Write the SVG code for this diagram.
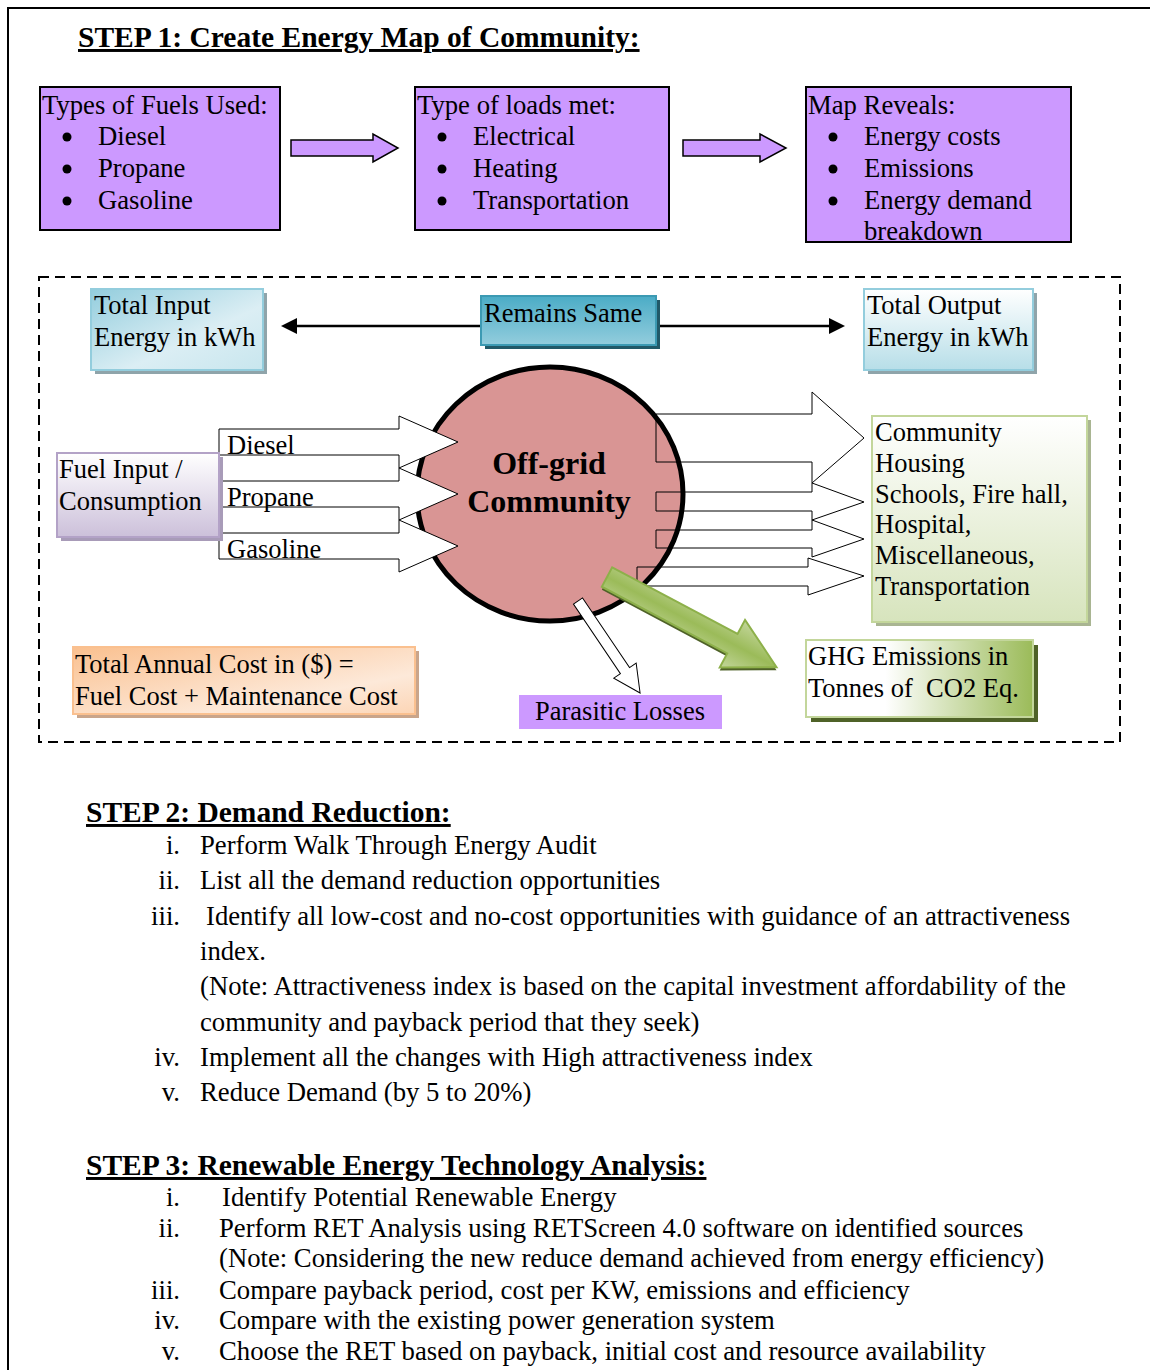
<svg xmlns="http://www.w3.org/2000/svg" width="1150" height="1370" viewBox="0 0 1150 1370">
<style>
text{font-family:"Liberation Serif","Times New Roman",serif;fill:#000}
.t26{font-size:26.7px}
.t24{font-size:26.5px}
.h{font-size:29.5px;font-weight:bold;text-decoration:underline}
.purple{fill:#cc99ff;stroke:#000;stroke-width:2}
.blk{fill:#fff;stroke:#000;stroke-width:1}
.out{fill:none;stroke:#000;stroke-width:1}
</style>
<defs>
<linearGradient id="gIn" x1="0" y1="0" x2="1" y2="1"><stop offset="0" stop-color="#93cddd"/><stop offset="0.6" stop-color="#dbeef4"/><stop offset="1" stop-color="#c8e6ee"/></linearGradient>
<linearGradient id="gOut" x1="0" y1="0" x2="0" y2="1"><stop offset="0" stop-color="#ffffff"/><stop offset="1" stop-color="#b7dee8"/></linearGradient>
<linearGradient id="gSame" x1="0" y1="0" x2="0" y2="1"><stop offset="0" stop-color="#4bacc6"/><stop offset="1" stop-color="#93cddd"/></linearGradient>
<linearGradient id="gFuel" x1="0" y1="0" x2="0" y2="1"><stop offset="0" stop-color="#ffffff"/><stop offset="1" stop-color="#ccc0da"/></linearGradient>
<linearGradient id="gComm" x1="0" y1="0" x2="0" y2="1"><stop offset="0" stop-color="#ffffff"/><stop offset="1" stop-color="#d7e4bd"/></linearGradient>
<linearGradient id="gCost" x1="0" y1="0" x2="1" y2="1"><stop offset="0" stop-color="#fac08f"/><stop offset="0.7" stop-color="#fde9d9"/><stop offset="1" stop-color="#fcd5b5"/></linearGradient>
<linearGradient id="gGhg" x1="0" y1="0" x2="1" y2="0"><stop offset="0" stop-color="#ffffff"/><stop offset="0.35" stop-color="#ffffff"/><stop offset="1" stop-color="#9bbb59"/></linearGradient>
<linearGradient id="gGreen" x1="0" y1="0" x2="0" y2="1"><stop offset="0" stop-color="#c3d69b"/><stop offset="0.5" stop-color="#9bbb59"/><stop offset="1" stop-color="#c3d69b"/></linearGradient>
</defs>
<rect width="1150" height="1370" fill="#fff"/>
<path d="M8,1370 V8 H1150" fill="none" stroke="#000" stroke-width="2"/>

<text class="h" x="78" y="47">STEP 1: Create Energy Map of Community:</text>

<g id="fuels">
<rect class="purple" x="40" y="87" width="240" height="143"/>
<text class="t26" x="42" y="114">Types of Fuels Used:</text>
<circle cx="67" cy="137" r="4.5"/><circle cx="67" cy="169" r="4.5"/><circle cx="67" cy="201" r="4.5"/>
<text class="t26" x="98" y="145">Diesel</text>
<text class="t26" x="98" y="177">Propane</text>
<text class="t26" x="98" y="209">Gasoline</text>
</g>
<g id="loads">
<rect class="purple" x="415" y="87" width="254" height="143"/>
<text class="t26" x="417" y="114">Type of loads met:</text>
<circle cx="442" cy="137" r="4.5"/><circle cx="442" cy="169" r="4.5"/><circle cx="442" cy="201" r="4.5"/>
<text class="t26" x="473" y="145">Electrical</text>
<text class="t26" x="473" y="177">Heating</text>
<text class="t26" x="473" y="209">Transportation</text>
</g>
<g id="reveals">
<rect class="purple" x="806" y="87" width="265" height="155"/>
<text class="t26" x="808" y="114">Map Reveals:</text>
<circle cx="833" cy="137" r="4.5"/><circle cx="833" cy="169" r="4.5"/><circle cx="833" cy="201" r="4.5"/>
<text class="t26" x="864" y="145">Energy costs</text>
<text class="t26" x="864" y="177">Emissions</text>
<text class="t26" x="864" y="209">Energy demand</text>
<text class="t26" x="864" y="240">breakdown</text>
</g>

<g id="connectors">
<path d="M291,140 H373 V134 L398,148 L373,162 V156 H291 Z" fill="#cc99ff" stroke="#000" stroke-width="1.5"/>
<path d="M683,140 H760 V134 L786,148 L760,162 V156 H683 Z" fill="#cc99ff" stroke="#000" stroke-width="1.5"/>
<line x1="296" y1="326" x2="481" y2="326" stroke="#000" stroke-width="2.5"/>
<path d="M281,326 L297,318 L297,334 Z" fill="#000"/>
<line x1="657" y1="326" x2="830" y2="326" stroke="#000" stroke-width="2.5"/>
<path d="M845,326 L829,318 L829,334 Z" fill="#000"/>
</g>

<rect x="39" y="277" width="1081" height="465" fill="none" stroke="#000" stroke-width="2" stroke-dasharray="10,6"/>

<g id="total-input">
<rect x="95" y="293" width="172" height="81" fill="#8fa4aa"/>
<rect x="91" y="289" width="172" height="81" fill="url(#gIn)" stroke="#93cddd" stroke-width="2"/>
<text class="t24" x="94" y="314">Total Input</text>
<text class="t24" x="94" y="346">Energy in kWh</text>
</g>
<g id="remains-same">
<rect x="485" y="300" width="175" height="49" fill="#215968"/>
<rect x="481" y="296" width="175" height="49" fill="url(#gSame)" stroke="#3c9ab3" stroke-width="2"/>
<text class="t24" x="484" y="322">Remains Same</text>
</g>
<g id="total-output">
<rect x="868" y="293" width="169" height="81" fill="#8fa4aa"/>
<rect x="864" y="289" width="169" height="81" fill="url(#gOut)" stroke="#93cddd" stroke-width="2"/>
<text class="t24" x="867" y="314">Total Output</text>
<text class="t24" x="867" y="346">Energy in kWh</text>
</g>

<g id="community-circle">
<ellipse cx="550" cy="494" rx="133" ry="127" fill="#d99594" stroke="#000" stroke-width="5"/>
<text x="549" y="474" text-anchor="middle" font-size="32" font-weight="bold">Off-grid</text>
<text x="549" y="512" text-anchor="middle" font-size="32" font-weight="bold">Community</text>
</g>

<g id="input-arrows">
<path class="blk" d="M219,429 H399 V416 L458,442 L399,468 V455 H219 Z"/>
<path class="blk" d="M219,481 H399 V468 L458,494 L399,520 V507 H219 Z"/>
<path class="blk" d="M219,533 H399 V520 L458,546 L399,572 V559 H219 Z"/>
<text class="t24" x="227" y="454">Diesel</text>
<text class="t24" x="227" y="506">Propane</text>
<text class="t24" x="227" y="558">Gasoline</text>
</g>

<g id="output-arrows">
<path class="out" d="M656,414 H812 V392 L864,438 L812,483 V462 H656 Z"/>
<path class="out" d="M656,492 H812 V483 L864,502 L812,520 V511 H656 Z"/>
<path class="out" d="M656,530 H812 V520 L864,539 L812,557 V548 H656 Z"/>
<path class="out" d="M637,567 H808 V558 L864,576 L808,595 V586 H637 Z"/>
</g>

<g id="fuel-input">
<rect x="61" y="457" width="162" height="84" fill="#a89bb8"/>
<rect x="57" y="453" width="162" height="84" fill="url(#gFuel)" stroke="#b3a2c7" stroke-width="2"/>
<text class="t24" x="59" y="478">Fuel Input /</text>
<text class="t24" x="59" y="510">Consumption</text>
</g>

<g id="community-loads">
<rect x="876" y="420" width="215" height="206" fill="#a9b592"/>
<rect x="872" y="416" width="215" height="206" fill="url(#gComm)" stroke="#c3d69b" stroke-width="2"/>
<text class="t24" x="875" y="441">Community</text>
<text class="t24" x="875" y="472">Housing</text>
<text class="t24" x="875" y="503">Schools, Fire hall,</text>
<text class="t24" x="875" y="533">Hospital,</text>
<text class="t24" x="875" y="564">Miscellaneous,</text>
<text class="t24" x="875" y="595">Transportation</text>
</g>

<g id="parasitic-arrow">
<path transform="translate(578,601) rotate(56)" d="M0,-5.5 H84 V-13.5 L111,0 L84,13.5 V5.5 H0 Z" fill="#fff" stroke="#000" stroke-width="1"/>
</g>
<g id="ghg-arrow">
<path transform="translate(607,580) rotate(28)" d="M0,-11 H142 V-27 L192,0 L142,27 V11 H0 Z" fill="#4f6228"/>
<path transform="translate(607,577) rotate(28)" d="M0,-11 H142 V-27 L192,0 L142,27 V11 H0 Z" fill="url(#gGreen)" stroke="#8db04a" stroke-width="2"/>
</g>

<g id="parasitic-losses">
<rect x="519" y="695" width="203" height="34" fill="#cc99ff"/>
<text class="t24" x="620" y="720" text-anchor="middle">Parasitic Losses</text>
</g>

<g id="annual-cost">
<rect x="77" y="651" width="342" height="67" fill="#c9a58b"/>
<rect x="73" y="647" width="342" height="67" fill="url(#gCost)" stroke="#fac08f" stroke-width="2"/>
<text class="t24" x="75" y="673">Total Annual Cost in ($) =</text>
<text class="t24" x="75" y="705">Fuel Cost + Maintenance Cost</text>
</g>

<g id="ghg">
<rect x="811" y="645" width="227" height="77" fill="#4f6228"/>
<rect x="806" y="640" width="227" height="77" fill="url(#gGhg)" stroke="#c3d69b" stroke-width="2"/>
<text class="t24" x="808" y="665">GHG Emissions in</text>
<text class="t24" x="808" y="697" xml:space="preserve">Tonnes of  CO2 Eq.</text>
</g>

<g id="step2">
<text class="h" x="86" y="822">STEP 2: Demand Reduction:</text>
<g class="t26" text-anchor="end">
<text x="180" y="854">i.</text>
<text x="180" y="889">ii.</text>
<text x="180" y="925">iii.</text>
<text x="180" y="1066">iv.</text>
<text x="180" y="1101">v.</text>
</g>
<g class="t26">
<text x="200" y="854">Perform Walk Through Energy Audit</text>
<text x="200" y="889">List all the demand reduction opportunities</text>
<text x="206" y="925">Identify all low-cost and no-cost opportunities with guidance of an attractiveness</text>
<text x="200" y="960">index.</text>
<text x="200" y="995">(Note: Attractiveness index is based on the capital investment affordability of the</text>
<text x="200" y="1031">community and payback period that they seek)</text>
<text x="200" y="1066">Implement all the changes with High attractiveness index</text>
<text x="200" y="1101">Reduce Demand (by 5 to 20%)</text>
</g>
</g>

<g id="step3">
<text class="h" x="86" y="1175">STEP 3: Renewable Energy Technology Analysis:</text>
<g class="t26" text-anchor="end">
<text x="180" y="1206">i.</text>
<text x="180" y="1237">ii.</text>
<text x="180" y="1299">iii.</text>
<text x="180" y="1329">iv.</text>
<text x="180" y="1360">v.</text>
</g>
<g class="t26">
<text x="222" y="1206">Identify Potential Renewable Energy</text>
<text x="219" y="1237">Perform RET Analysis using RETScreen 4.0 software on identified sources</text>
<text x="219" y="1267">(Note: Considering the new reduce demand achieved from energy efficiency)</text>
<text x="219" y="1299">Compare payback period, cost per KW, emissions and efficiency</text>
<text x="219" y="1329">Compare with the existing power generation system</text>
<text x="219" y="1360">Choose the RET based on payback, initial cost and resource availability</text>
</g>
</g>
</svg>
